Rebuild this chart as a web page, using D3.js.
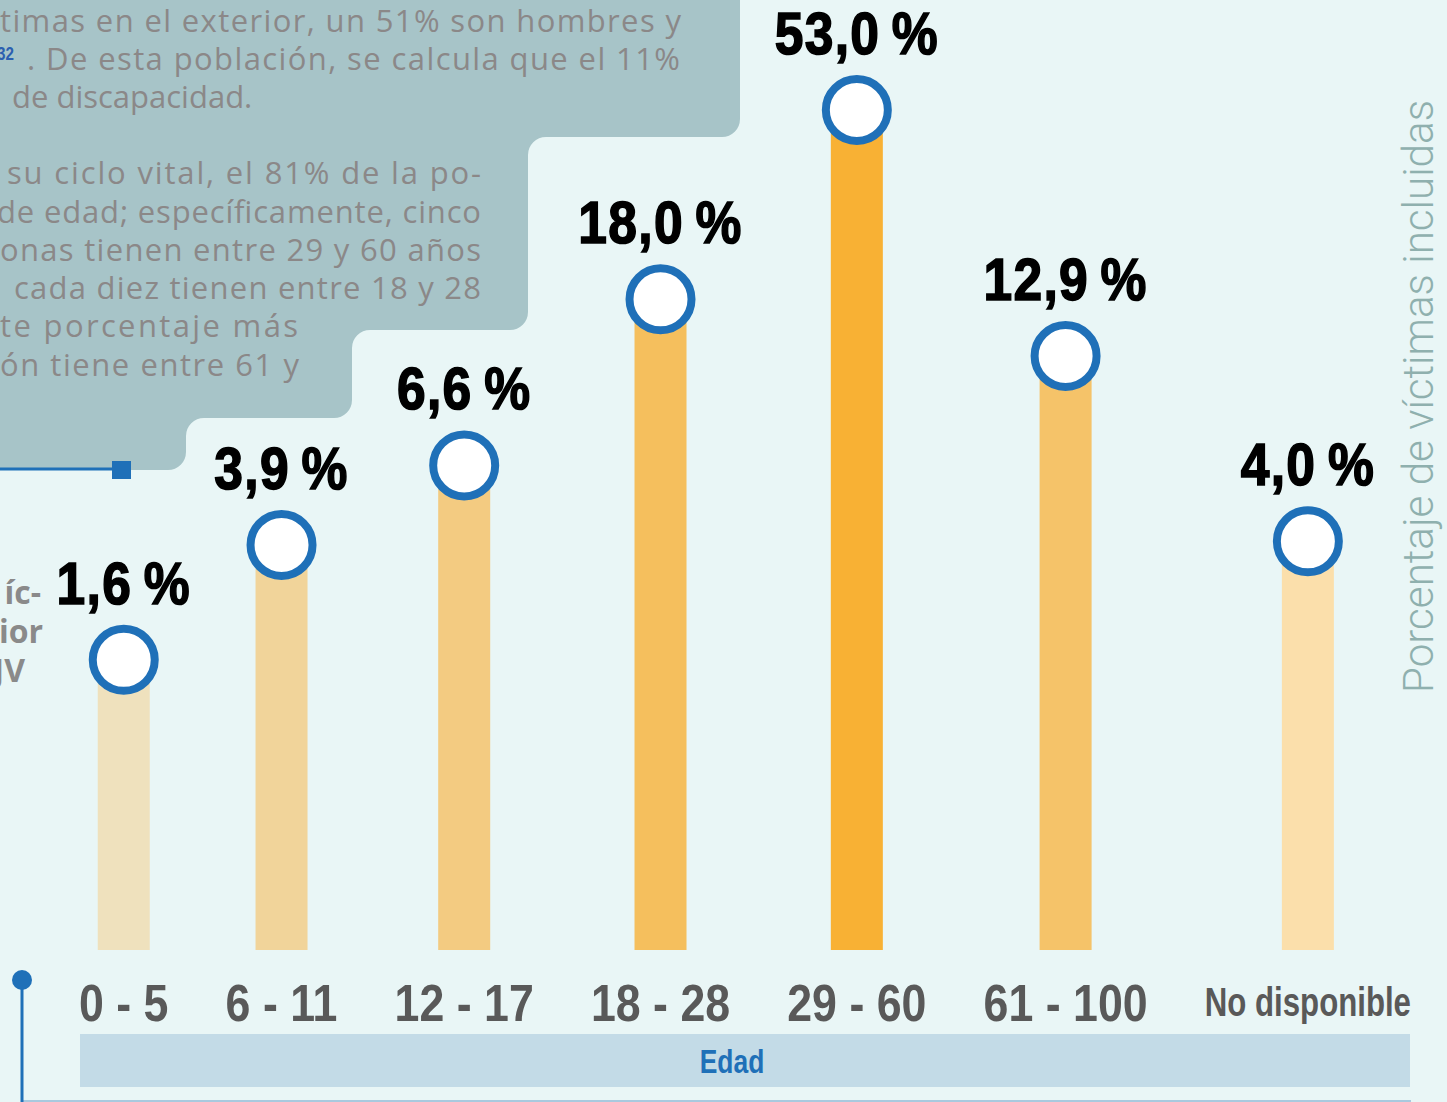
<!DOCTYPE html>
<html>
<head>
<meta charset="utf-8">
<script src="https://cdn.jsdelivr.net/npm/d3@7"></script>
<style>
  body { margin: 0; background: #e9f6f6; overflow: hidden; }
  svg { display: block; }
</style>
</head>
<body>
<svg id="chart"></svg>
<script>
// data
const categories = ["0 - 5", "6 - 11", "12 - 17", "18 - 28", "29 - 60", "61 - 100", "No disponible"]
const shares = [1.6, 3.9, 6.6, 18.0, 53.0, 12.9, 4.0]
const xTitle = "Edad"
const yTitle = "Porcentaje de víctimas incluidas"

// the text fragments of the page that the chart sits on
const introLines = [
  "timas en el exterior, un 51% son hombres y",
  ". De esta población, se calcula que el 11%",
  "de discapacidad.",
  "su ciclo vital, el 81% de la po-",
  "de edad; específicamente, cinco",
  "onas tienen entre 29 y 60 años",
  "cada diez tienen entre 18 y 28",
  "te porcentaje más",
  "ón tiene entre 61 y"
]
const footnoteMark = "32"
const sideLines = ["íc-", "rior", "JV"]

const width = 1447
const height = 1102
const baseline = 950
const plotLeft = 79, plotRight = 1411

const svg = d3.select('#chart').attr('width', width).attr('height', height)

svg.append('rect').attr('width', width).attr('height', height).attr('fill', '#e9f6f6')

// stepped text box in the top left corner, with rounded corners
const boxPts = [[-30, -30], [740, -30], [740, 137], [528, 137], [528, 330], [352, 330],
  [352, 418], [186, 418], [186, 470], [-30, 470]]
const boxPath = d3.path()
boxPath.moveTo(boxPts[0][0], boxPts[0][1])
for (let i = 1; i < boxPts.length; i++) {
  const p = boxPts[i], q = boxPts[(i + 1) % boxPts.length]
  boxPath.arcTo(p[0], p[1], q[0], q[1], 18)
}
boxPath.closePath()
svg.append('path').attr('d', boxPath.toString()).attr('fill', '#a7c4c8')

// line layout for the box text: [start x, end x (null = natural), baseline]
const introLayout = [
  [0, 681, 32], [27, 680, 70], [12, null, 108],
  [7, 481, 184], [-3, 481, 223], [0, 481, 261], [14, 481, 299],
  [0, 298, 337], [0, 299, 376]
]
const textFont = "'Open Sans', 'Noto Sans', sans-serif"
svg.append('g').selectAll('text')
  .data(introLines)
  .join('text')
  .attr('x', (d, i) => introLayout[i][0])
  .attr('y', (d, i) => introLayout[i][2])
  .attr('textLength', (d, i) => introLayout[i][1] === null ? null : introLayout[i][1] - introLayout[i][0])
  .attr('lengthAdjust', 'spacing')
  .attr('font-family', textFont)
  .attr('font-size', 31)
  .attr('fill', '#8b8888')
  .text(d => d)

// condensed bold type is faked by squeezing Liberation Sans Bold
const condensed = "'Liberation Sans', Arial, sans-serif"
function squeezed(sel, x, y, s) {
  sel.attr('transform', (d, i) => `translate(${x(d, i)},${y(d, i)}) scale(${s},1)`)
}

svg.append('text')
  .attr('transform', 'translate(-3,60) scale(0.8,1)')
  .attr('font-family', condensed)
  .attr('font-weight', 'bold')
  .attr('font-size', 19)
  .attr('fill', '#2b5fb0')
  .text(footnoteMark)

// cut-off bold words at the left edge
const sideEnds = [41, 43, 25]
svg.append('g').selectAll('text')
  .data(sideLines)
  .join('text')
  .attr('x', (d, i) => sideEnds[i])
  .attr('y', (d, i) => 604 + i * 39)
  .attr('text-anchor', 'end')
  .attr('font-family', textFont)
  .attr('font-weight', 'bold')
  .attr('font-size', 32)
  .attr('fill', '#8a8a8a')
  .text(d => d)

// blue rule ending in a square
svg.append('line').attr('x1', 0).attr('x2', 115).attr('y1', 469).attr('y2', 469)
  .attr('stroke', '#1f70b8').attr('stroke-width', 3)
svg.append('rect').attr('x', 112).attr('y', 461).attr('width', 19).attr('height', 18)
  .attr('fill', '#1f70b8')

// category labels first, so the bars can be centred on them
const isLong = d => d.length > 8
const labelScale = d => isLong(d) ? 0.78 : 0.86
const labels = svg.append('g').selectAll('text')
  .data(categories)
  .join('text')
  .attr('text-anchor', 'middle')
  .attr('font-family', condensed)
  .attr('font-weight', 'bold')
  .attr('font-size', d => isLong(d) ? 40 : 52)
  .attr('fill', '#595959')
  .text(d => d)

// spread the labels over the plot width with equal gaps
const widths = labels.nodes().map((n, i) => n.getComputedTextLength() * labelScale(categories[i]))
const gap = (plotRight - plotLeft - d3.sum(widths)) / (widths.length - 1)
let cursor = 0
const units = widths.map(w => {
  const c = cursor + w / 2
  cursor += w + gap
  return c
})
const unitScale = d3.scaleLinear().domain([0, plotRight - plotLeft]).range([plotLeft, plotRight])
const x = d3.scaleOrdinal().domain(categories).range(units.map(unitScale))
labels.attr('transform', d => `translate(${x(d)},${isLong(d) ? 1016 : 1021}) scale(${labelScale(d)},1)`)

// value scale: compressed towards the top like the original graphic
const y = d3.scaleSymlog().constant(1).domain([0, 53]).range([baseline - 117, 110])
const color = d3.scaleSymlog().domain([1.6, 6.6, 53]).range(['#efe1bd', '#f3cb81', '#f8b134'])
  .interpolate(d3.interpolateRgb)

const rows = categories.map((c, i) => ({ cat: c, value: shares[i] }))
const barWidth = 52

svg.append('g').selectAll('rect')
  .data(rows)
  .join('rect')
  .attr('x', d => x(d.cat) - barWidth / 2)
  .attr('y', d => y(d.value))
  .attr('width', barWidth)
  .attr('height', d => baseline - y(d.value))
  .attr('fill', d => isLong(d.cat) ? '#fbdfab' : color(d.value))

svg.append('g').selectAll('circle')
  .data(rows)
  .join('circle')
  .attr('cx', d => x(d.cat))
  .attr('cy', d => y(d.value))
  .attr('r', 31)
  .attr('fill', '#ffffff')
  .attr('stroke', '#1f70b8')
  .attr('stroke-width', 8)

const esFormat = d3.formatLocale({ decimal: ",", thousands: ".", grouping: [3], currency: ["", " €"] }).format(".1f")
svg.append('g').selectAll('text')
  .data(rows)
  .join('text')
  .attr('text-anchor', 'middle')
  .attr('font-family', condensed)
  .attr('font-weight', 'bold')
  .attr('font-size', 60)
  .attr('letter-spacing', 1.5)
  .attr('fill', '#000')
  .attr('stroke', '#000')
  .attr('stroke-width', 1.6)
  .call(squeezed, d => x(d.cat), d => y(d.value) - 56, 0.86)
  .text(d => esFormat(d.value) + "\u2009%")

// axis title band
svg.append('rect').attr('x', 80).attr('y', 1034).attr('width', 1330).attr('height', 53)
  .attr('fill', '#c3dbe7')
svg.append('text')
  .attr('transform', 'translate(732,1073) scale(0.8,1)')
  .attr('text-anchor', 'middle')
  .attr('font-family', condensed)
  .attr('font-weight', 'bold')
  .attr('font-size', 33)
  .attr('fill', '#1f70b8')
  .text(xTitle)

// bottom rule and the blue marker on the left
svg.append('line').attr('x1', 22).attr('x2', 1411).attr('y1', 1101).attr('y2', 1101)
  .attr('stroke', '#a9c9de').attr('stroke-width', 2)
svg.append('line').attr('x1', 22).attr('x2', 22).attr('y1', 980).attr('y2', height)
  .attr('stroke', '#1f70b8').attr('stroke-width', 3)
svg.append('circle').attr('cx', 22).attr('cy', 980).attr('r', 10).attr('fill', '#1f70b8')

// vertical value title
svg.append('text')
  .attr('transform', 'translate(1433,693) rotate(-90)')
  .attr('font-family', "Roboto, 'Liberation Sans', sans-serif")
  .attr('font-weight', 300)
  .attr('font-size', 43)
  .attr('textLength', 593)
  .attr('lengthAdjust', 'spacingAndGlyphs')
  .attr('fill', '#8fb0ae')
  .text(yTitle)
</script>
</body>
</html>
